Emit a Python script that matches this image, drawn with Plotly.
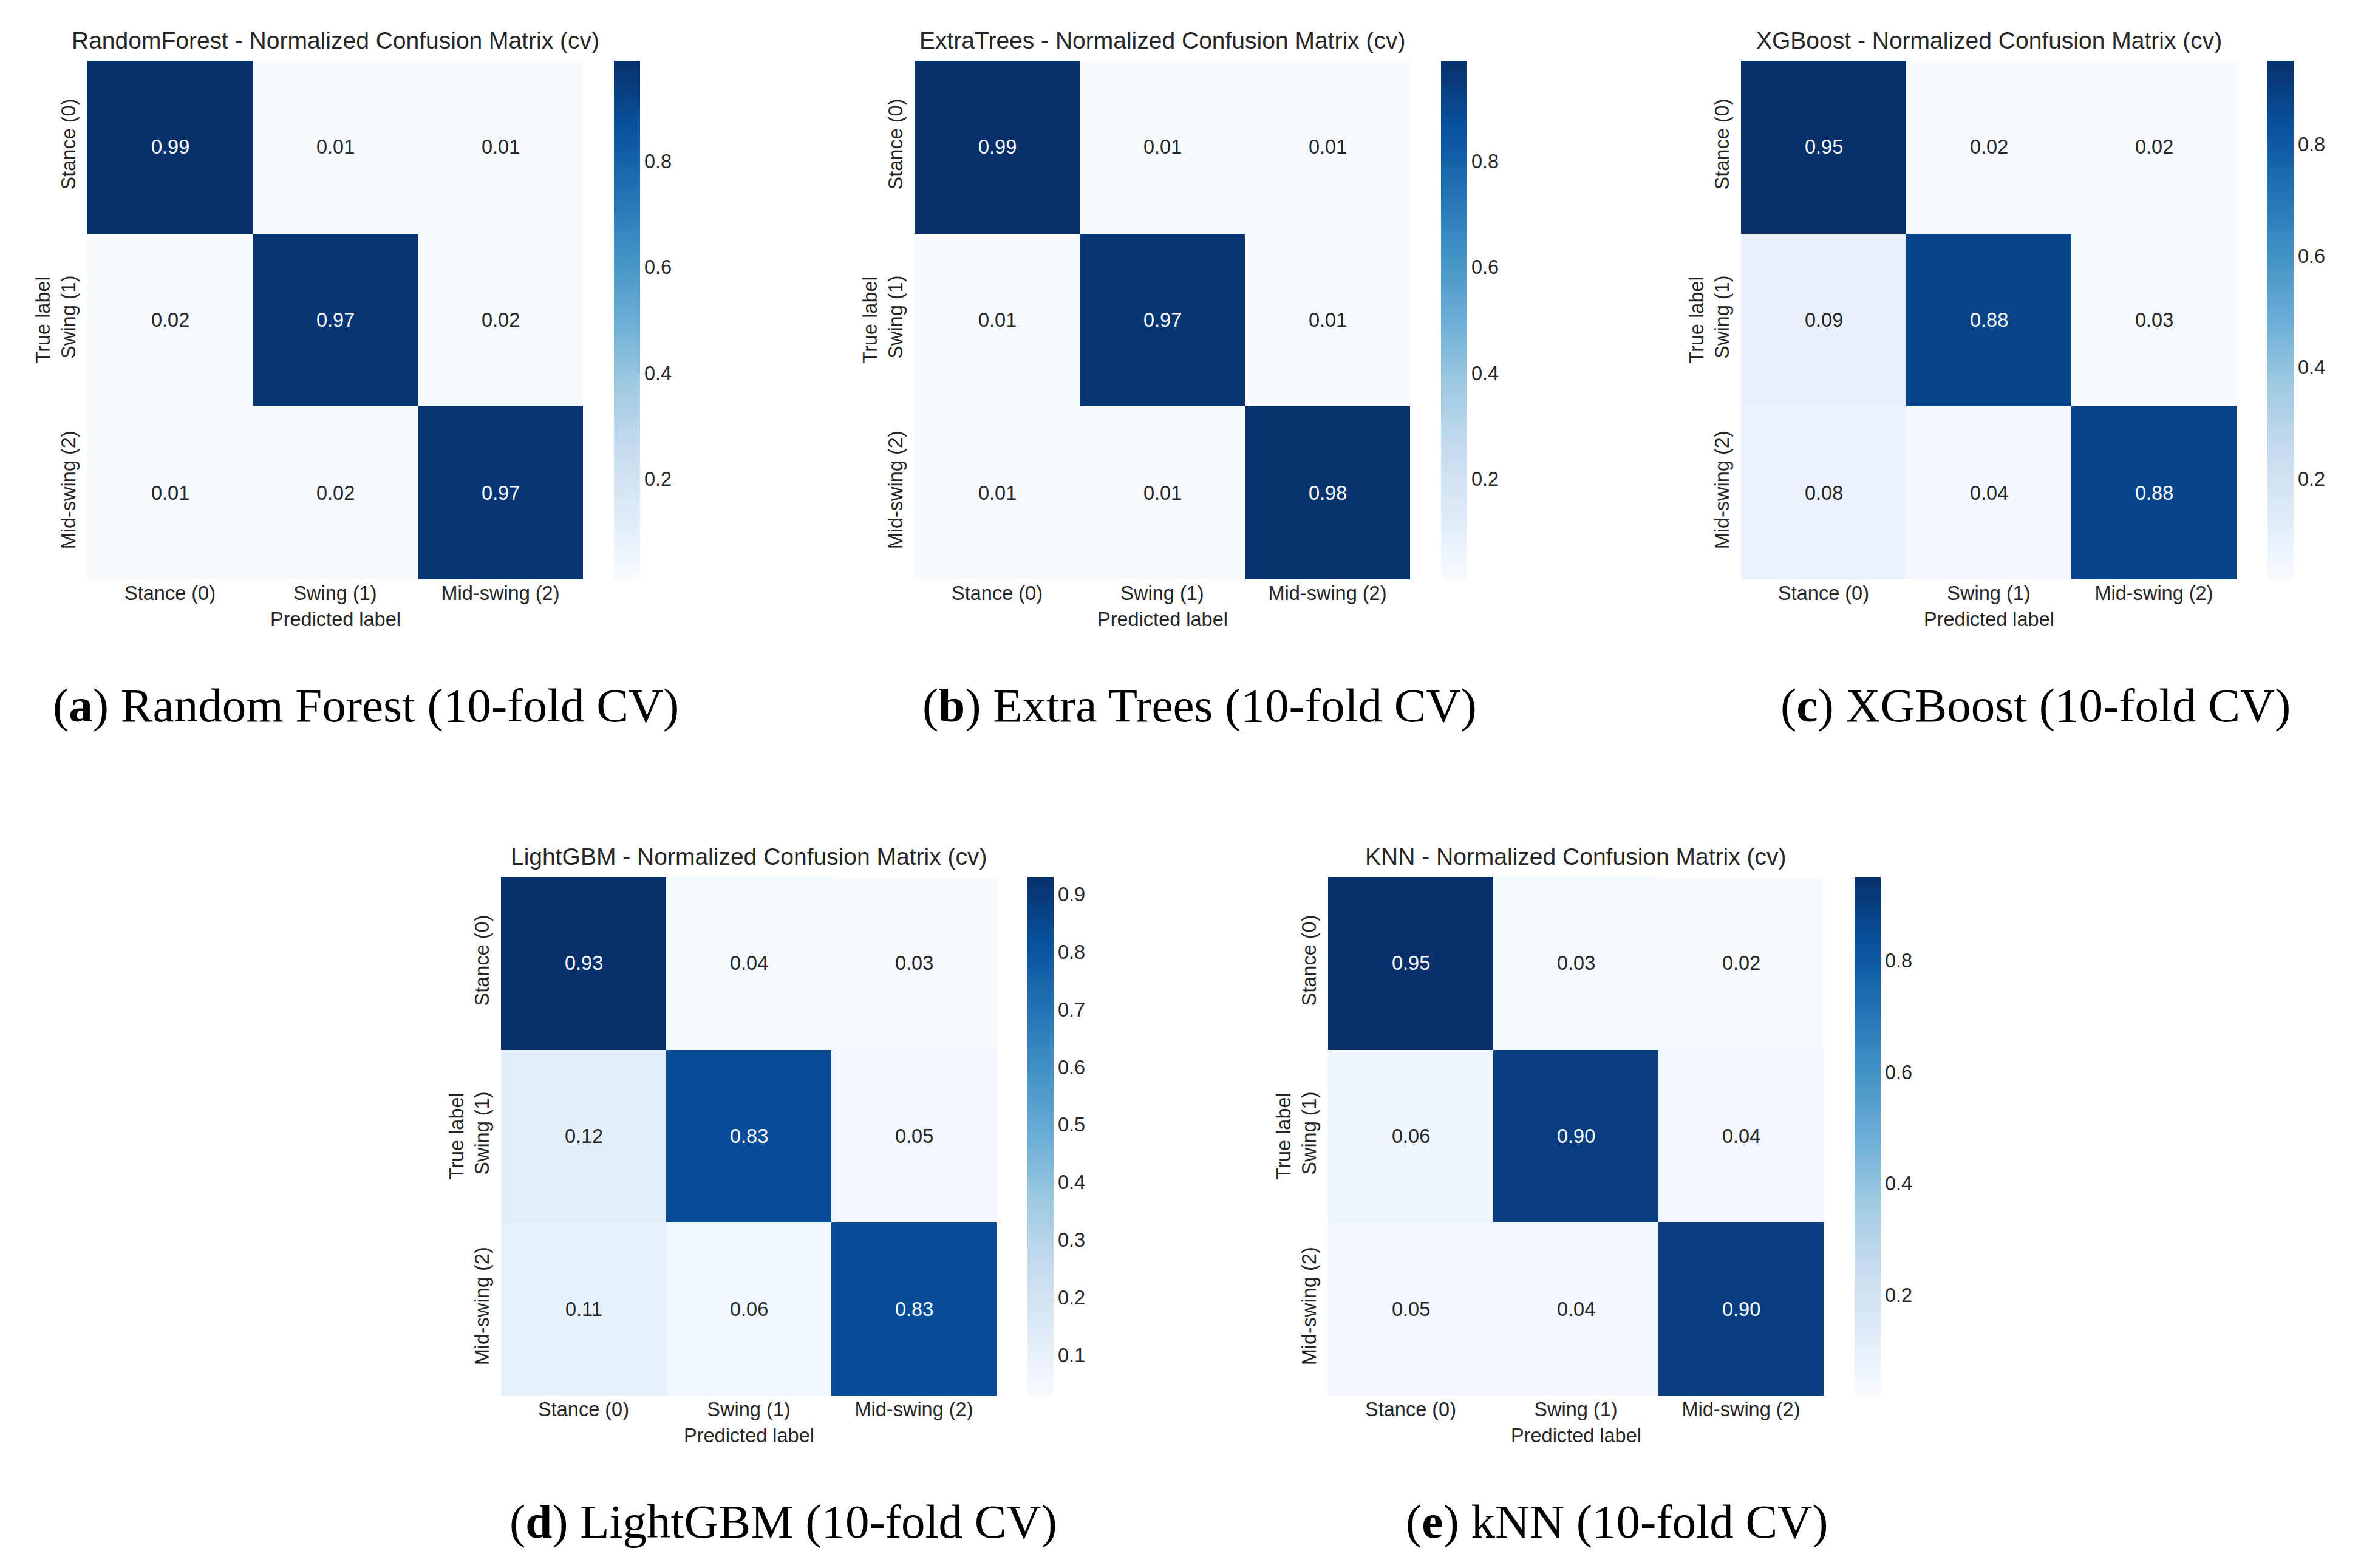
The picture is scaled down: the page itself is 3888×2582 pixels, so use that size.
import plotly.graph_objects as go

# canvas size in px
W, H = 3888, 2582

# ---- data -------------------------------------------------------------
classes = ["Stance (0)", "Swing (1)", "Mid-swing (2)"]

rf_cm = [[0.99, 0.01, 0.01],
         [0.02, 0.97, 0.02],
         [0.01, 0.02, 0.97]]
et_cm = [[0.99, 0.01, 0.01],
         [0.01, 0.97, 0.01],
         [0.01, 0.01, 0.98]]
xgb_cm = [[0.95, 0.02, 0.02],
          [0.09, 0.88, 0.03],
          [0.08, 0.04, 0.88]]
lgbm_cm = [[0.93, 0.04, 0.03],
           [0.12, 0.83, 0.05],
           [0.11, 0.06, 0.83]]
knn_cm = [[0.95, 0.03, 0.02],
          [0.06, 0.90, 0.04],
          [0.05, 0.04, 0.90]]

model_names = ["RandomForest", "ExtraTrees", "XGBoost", "LightGBM", "KNN"]
matrices = [rf_cm, et_cm, xgb_cm, lgbm_cm, knn_cm]
caption_letters = ["a", "b", "c", "d", "e"]
caption_texts = ["Random Forest (10-fold CV)", "Extra Trees (10-fold CV)",
                 "XGBoost (10-fold CV)", "LightGBM (10-fold CV)", "kNN (10-fold CV)"]
cbar_ticks = [[0.2, 0.4, 0.6, 0.8],
              [0.2, 0.4, 0.6, 0.8],
              [0.2, 0.4, 0.6, 0.8],
              [0.1, 0.2, 0.3, 0.4, 0.5, 0.6, 0.7, 0.8, 0.9],
              [0.2, 0.4, 0.6, 0.8]]

# ---- layout (pixels) --------------------------------------------------
lefts = [144, 1506, 2867, 825, 2187]
tops = [100, 100, 100, 1444, 1444]
cap_x = [602, 1976, 3352, 1290, 2662]
cap_y = [1161, 1161, 1161, 2505, 2505]
hm_w, hm_h = 816, 854

blues = ["#f7fbff", "#deebf7", "#c6dbef", "#9ecae1", "#6baed6",
         "#4292c6", "#2171b5", "#08519c", "#08306b"]
colorscale = [[i / 8, c] for i, c in enumerate(blues)]

sans = "Liberation Sans, Arial, sans-serif"
serif = "Liberation Serif, Times New Roman, serif"
dark = "#262626"
fs = 32.5


def px(x):
    return x / W


def py(y):
    return 1 - y / H


fig = go.Figure()
annotations = []

for i, (name, cm) in enumerate(zip(model_names, matrices)):
    left, top = lefts[i], tops[i]
    sfx = "" if i == 0 else str(i + 1)
    flat = [v for row in cm for v in row]
    zmin, zmax = min(flat), max(flat)

    fig.add_trace(go.Heatmap(
        z=cm, x=classes, y=classes,
        xaxis="x" + sfx, yaxis="y" + sfx,
        zmin=zmin, zmax=zmax,
        colorscale=colorscale,
        colorbar=dict(
            x=px(left + 867), xanchor="left", xpad=0,
            y=py(top + hm_h / 2), yanchor="middle", ypad=0,
            len=hm_h, lenmode="pixels",
            thickness=43, thicknessmode="pixels",
            outlinewidth=0,
            tickvals=cbar_ticks[i],
            ticktext=["%.1f" % t for t in cbar_ticks[i]],
            ticks="", ticklen=0,
            tickfont=dict(family=sans, size=fs, color=dark),
        ),
        hoverinfo="skip",
    ))

    fig.update_layout(**{
        "xaxis" + sfx: dict(
            domain=[px(left), px(left + hm_w)], anchor="y" + sfx,
            range=[-0.5, 2.5], showgrid=False, zeroline=False, showline=False,
            ticks="", ticklen=0, ticklabelstandoff=0,
            tickfont=dict(family=sans, size=fs, color=dark), fixedrange=True,
        ),
        "yaxis" + sfx: dict(
            domain=[py(top + hm_h), py(top)], anchor="x" + sfx,
            range=[2.5, -0.5], showgrid=False, zeroline=False, showline=False,
            ticks="", ticklen=0, ticklabelstandoff=13, tickangle=-90,
            tickfont=dict(family=sans, size=fs, color=dark), fixedrange=True,
        ),
    })

    # cell values
    for r, row in enumerate(cm):
        for c, v in enumerate(row):
            norm = (v - zmin) / (zmax - zmin)
            annotations.append(dict(
                x=classes[c], y=classes[r], xref="x" + sfx, yref="y" + sfx,
                text="%.2f" % v, showarrow=False,
                font=dict(family=sans, size=fs, color="white" if norm > 0.5 else dark),
            ))

    # title, axis titles, caption
    annotations.append(dict(
        x=px(left + hm_w / 2), y=py(top - 33.5), xref="paper", yref="paper",
        text="%s - Normalized Confusion Matrix (cv)" % name, showarrow=False,
        xanchor="center", yanchor="middle",
        font=dict(family=sans, size=39, color=dark),
    ))
    annotations.append(dict(
        x=px(left - 73.5), y=py(top + hm_h / 2), xref="paper", yref="paper",
        text="True label", textangle=-90, showarrow=False,
        xanchor="center", yanchor="middle",
        font=dict(family=sans, size=fs, color=dark),
    ))
    annotations.append(dict(
        x=px(left + hm_w / 2), y=py(top + hm_h + 66), xref="paper", yref="paper",
        text="Predicted label", showarrow=False,
        xanchor="center", yanchor="middle",
        font=dict(family=sans, size=fs, color=dark),
    ))
    annotations.append(dict(
        x=px(cap_x[i]), y=py(cap_y[i]), xref="paper", yref="paper",
        text="(<b>%s</b>) %s" % (caption_letters[i], caption_texts[i]),
        showarrow=False, xanchor="center", yanchor="middle",
        font=dict(family=serif, size=79, color="black"),
    ))

fig.update_layout(
    width=W, height=H, autosize=False,
    margin=dict(l=0, r=0, t=0, b=0),
    paper_bgcolor="white", plot_bgcolor="white",
    annotations=annotations,
)

# drop the default page margin so the figure sits at the window origin
fig.write_html("out.html", config={"displayModeBar": False},
               post_script="document.body.style.margin='0px';")
